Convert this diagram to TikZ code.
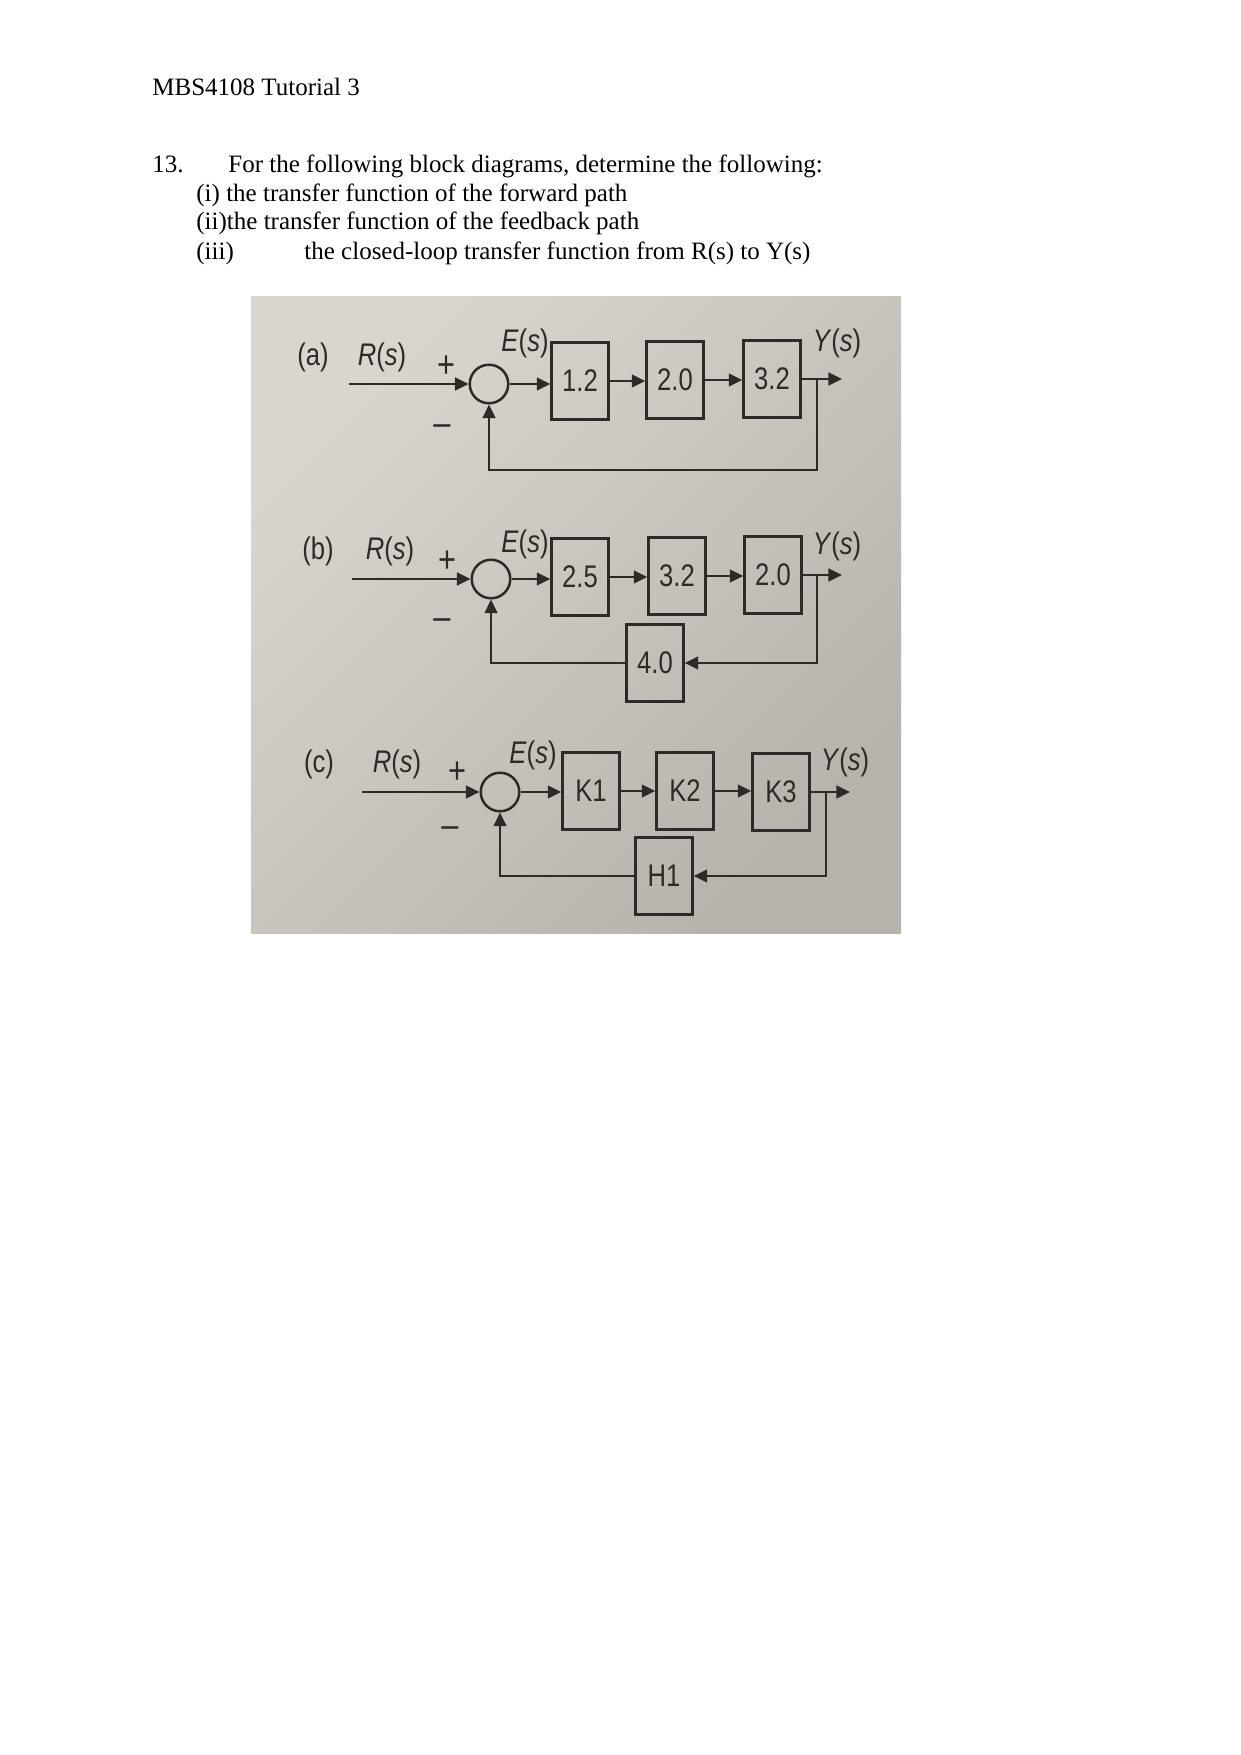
\documentclass[tikz,border=0pt]{standalone}
\usepackage{fontspec}
\setmainfont{Liberation Serif}
\newfontfamily\diagfont[FakeStretch=0.82]{Liberation Sans}
\usetikzlibrary{arrows.meta}
\definecolor{ink}{HTML}{2E2A28}
\definecolor{bgA}{HTML}{D9D6CF}
\definecolor{bgB}{HTML}{B6B3AD}
\tikzset{
  blk/.style={draw=ink, line width=1.1pt, minimum width=27.4pt, minimum height=37pt, inner sep=0pt, font=\diagfont\fontsize{15}{18}\selectfont, text=ink},
  sumnode/.style={draw=ink, line width=1.2pt, circle, minimum size=18.5pt, inner sep=0pt},
  arr/.style={draw=ink, line width=1.3pt, -{Triangle[length=6.5pt,width=6pt]}},
  lbl/.style={font=\diagfont\fontsize{15}{18}\selectfont, text=ink, inner sep=0pt},
  sgn/.style={font=\diagfont\fontsize{18}{20}\selectfont, text=ink, inner sep=0pt},
  txt/.style={anchor=base west, inner sep=0pt, font=\fontsize{12}{14}\selectfont}
}
\begin{document}
\begin{tikzpicture}[x=0.48006pt, y=-0.48006pt]
\useasboundingbox (0,0) rectangle (1240,1755);
% heading text
\node[txt] (hd) at (152,96) {MBS4108 Tutorial 3};
\node[txt] (q13) at (152,173) {13.};
\node[txt] (q0) at (228,173) {For the following block diagrams, determine the following:};
\node[txt] (q1) at (196,202) {(i) the transfer function of the forward path};
\node[txt] (q2) at (196,230) {(ii)the transfer function of the feedback path};
\node[txt] (q3) at (196,259) {(iii)};
\node[txt] (q3b) at (304,259) {the closed-loop transfer function from R(s) to Y(s)};
% photo background
\shade[shading=axis, top color=bgA, bottom color=bgB, shading angle=45] (251,296) rectangle (901,933);

% ---------- (a) ----------
\node[lbl] (aL) at (313,357) {(a)};
\node[lbl] (aR) at (382,357) {\textit{R}(\textit{s})};
\node[sgn] (aP) at (446,367) {+};
\node[sgn] (aM) at (442,430) {\textendash};
\node[lbl] (aE) at (525,343) {\textit{E}(\textit{s})};
\node[lbl] (aY) at (837,343) {\textit{Y}(\textit{s})};
\coordinate (aIn) at (349,384);
\node[sumnode] (aS) at (489,384) {};
\node[blk] (a1) at (580,381) {1.2};
\node[blk] (a2) at (675,380) {2.0};
\node[blk] (a3) at (772,379) {3.2};
\coordinate (aB) at (817,379);
\coordinate (aOut) at (842,379);
\coordinate (aC) at (817,470);
\draw[arr] (aIn) -- (aS.west);
\draw[arr] (aS.east) -- (aS.east -| a1.west);
\draw[arr] (a1.east) -- (a1.east -| a2.west);
\draw[arr] (a2.east) -- (a2.east -| a3.west);
\draw[arr] (a3.east) -- (aOut);
\draw[arr] (aB) -- (aC) -| (aS.south);

% ---------- (b) ----------
\node[lbl] (bL) at (318,551) {(b)};
\node[lbl] (bR) at (390,551) {\textit{R}(\textit{s})};
\node[sgn] (bP) at (447,562) {+};
\node[sgn] (bM) at (442,624) {\textendash};
\node[lbl] (bE) at (525,544) {\textit{E}(\textit{s})};
\node[lbl] (bY) at (837,546) {\textit{Y}(\textit{s})};
\coordinate (bIn) at (352,579);
\node[sumnode] (bS) at (491,579) {};
\node[blk] (b1) at (580,577) {2.5};
\node[blk] (b2) at (677,576) {3.2};
\node[blk] (b3) at (773,575) {2.0};
\node[blk] (b4) at (655,663) {4.0};
\coordinate (bB) at (817,575);
\coordinate (bOut) at (842,575);
\draw[arr] (bIn) -- (bS.west);
\draw[arr] (bS.east) -- (bS.east -| b1.west);
\draw[arr] (b1.east) -- (b1.east -| b2.west);
\draw[arr] (b2.east) -- (b2.east -| b3.west);
\draw[arr] (b3.east) -- (bOut);
\draw[arr] (bB) |- (b4.east);
\draw[arr] (b4.west) -| (bS.south);

% ---------- (c) ----------
\node[lbl] (cL) at (319,764) {(c)};
\node[lbl] (cR) at (397,764) {\textit{R}(\textit{s})};
\node[sgn] (cP) at (457,773) {+};
\node[sgn] (cM) at (450,832) {\textendash};
\node[lbl] (cE) at (533,755) {\textit{E}(\textit{s})};
\node[lbl] (cY) at (845,762) {\textit{Y}(\textit{s})};
\coordinate (cIn) at (362,792);
\node[sumnode] (cS) at (500,792) {};
\node[blk] (c1) at (591,791) {K1};
\node[blk] (c2) at (685,791) {K2};
\node[blk] (c3) at (781,792) {K3};
\node[blk] (c4) at (664,876) {H1};
\coordinate (cB) at (826,792);
\coordinate (cOut) at (850,792);
\draw[arr] (cIn) -- (cS.west);
\draw[arr] (cS.east) -- (cS.east -| c1.west);
\draw[arr] (c1.east) -- (c1.east -| c2.west);
\draw[arr] (c2.east) -- (c2.east -| c3.west);
\draw[arr] (c3.east) -- (cOut);
\draw[arr] (cB) |- (c4.east);
\draw[arr] (c4.west) -| (cS.south);
\end{tikzpicture}
\end{document}
